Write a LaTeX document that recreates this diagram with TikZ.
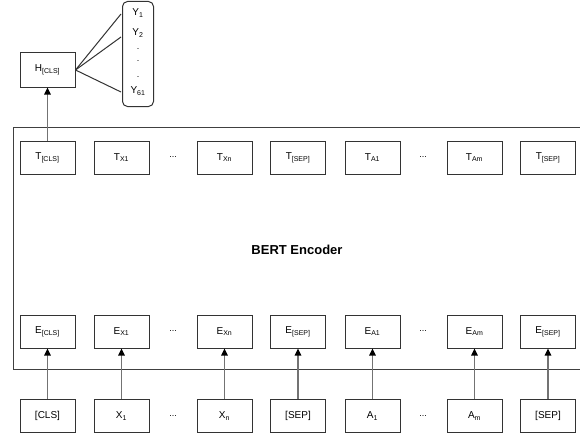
\documentclass[tikz,border=0pt]{standalone}
\usepackage{fontspec}
\setmainfont{Liberation Sans}
\usetikzlibrary{arrows.meta}
\begin{document}
\begin{tikzpicture}[x=1pt,y=-1pt,
  box/.style={draw=black!80,line width=1pt,minimum width=55pt,minimum height=33pt,inner sep=0pt,font=\fontsize{10}{12}\selectfont},
  dots/.style={font=\fontsize{9}{10}\selectfont,inner sep=0pt},
  conn/.style={draw=black!55,line width=1.3pt,-{Triangle[length=7pt,width=6.5pt,fill=black,color=black]}},
  lbl/.style={font=\fontsize{10}{12}\selectfont,inner sep=0pt}]
\clip (0,0) rectangle (580,436);
\fill[white] (0,0) rectangle (580,436);
% encoder block
\node[draw=black!75,line width=1pt,minimum width=600pt,minimum height=242pt,anchor=north west,inner sep=0pt] (enc) at (13,127) {};
\node[font=\bfseries\fontsize{13}{15}\selectfont] (enclbl) at (297,250) {BERT Encoder};
% top row T
\node[box] (t1) at (47.5,157.5) {T\textsubscript{[CLS]}};
\node[box] (t2) at (121.5,157.5) {T\textsubscript{X1}};
\node[dots] (td1) at (173,157.5) {...};
\node[box] (t3) at (224.5,157.5) {T\textsubscript{Xn}};
\node[box] (t4) at (298,157.5) {T\textsubscript{[SEP]}};
\node[box] (t5) at (372.5,157.5) {T\textsubscript{A1}};
\node[dots] (td2) at (423,157.5) {...};
\node[box] (t6) at (474.5,157.5) {T\textsubscript{Am}};
\node[box] (t7) at (548,157.5) {T\textsubscript{[SEP]}};
% E row
\node[box] (e1) at (47.5,331.5) {E\textsubscript{[CLS]}};
\node[box] (e2) at (121.5,331.5) {E\textsubscript{X1}};
\node[dots] (ed1) at (173,331.5) {...};
\node[box] (e3) at (224.5,331.5) {E\textsubscript{Xn}};
\node[box] (e4) at (298,331.5) {E\textsubscript{[SEP]}};
\node[box] (e5) at (372.5,331.5) {E\textsubscript{A1}};
\node[dots] (ed2) at (423,331.5) {...};
\node[box] (e6) at (474.5,331.5) {E\textsubscript{Am}};
\node[box] (e7) at (548,331.5) {E\textsubscript{[SEP]}};
% input row
\node[box] (i1) at (47.5,416) {[CLS]};
\node[box] (i2) at (121.5,416) {X\textsubscript{1}};
\node[dots] (id1) at (173,416) {...};
\node[box] (i3) at (224.5,416) {X\textsubscript{n}};
\node[box] (i4) at (298,416) {[SEP]};
\node[box] (i5) at (372.5,416) {A\textsubscript{1}};
\node[dots] (id2) at (423,416) {...};
\node[box] (i6) at (474.5,416) {A\textsubscript{m}};
\node[box] (i7) at (548,416) {[SEP]};
\foreach \k in {1,...,7} {\draw[conn] (i\k.north) -- (e\k.south);}
% H and Y
\node[box,minimum height=34pt] (h) at (47.5,70) {H\textsubscript{[CLS]}};
\draw[conn] (t1.north) -- (h.south);
\node[draw=black!80,line width=1pt,rounded corners=5pt,minimum width=31pt,minimum height=105pt,inner sep=0pt,anchor=north west] (ybox) at (122,1) {};
\node[lbl] (y1) at (138,13) {Y\textsubscript{1}};
\node[lbl] (y2) at (138,33) {Y\textsubscript{2}};
\node[dots] (yd1) at (138,49) {.};
\node[dots] (yd2) at (138,61) {.};
\node[dots] (yd3) at (138,77) {.};
\node[lbl] (y61) at (138,91) {Y\textsubscript{61}};
\coordinate (c1) at (121,14);
\coordinate (c2) at (121,37);
\coordinate (c3) at (121,92);
\foreach \c in {c1,c2,c3} {\draw[black!80,line width=1pt] (h.east) -- (\c);}
\end{tikzpicture}
\end{document}
